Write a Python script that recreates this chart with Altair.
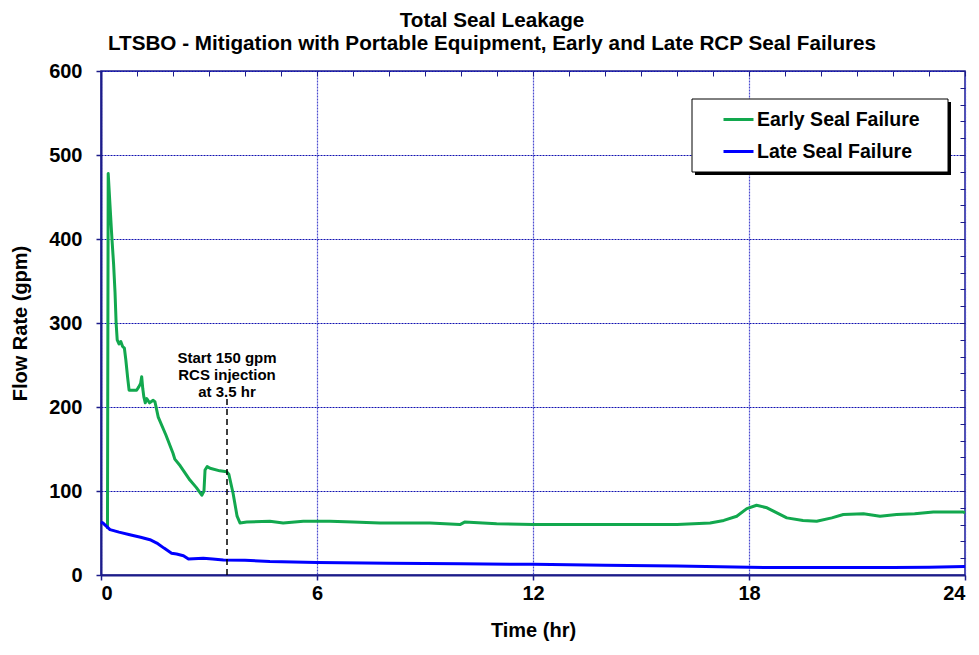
import altair as alt
import pandas as pd

FONT = "Liberation Sans"
NAVY = "#1c1c8a"

series_names = ["Early Seal Failure", "Late Seal Failure"]
series_colors = ["#12a84e", "#0000ff"]

early_t = [0.18, 0.2, 0.25, 0.3, 0.35, 0.39, 0.42, 0.45, 0.5, 0.55, 0.6, 0.65, 0.69, 0.74,
           0.78, 0.9, 0.99, 1.05, 1.1, 1.13, 1.16, 1.19, 1.23, 1.27, 1.35, 1.45, 1.5, 1.59,
           1.8, 2.0, 2.05, 2.2, 2.47, 2.65, 2.8, 2.86, 2.89, 2.95, 3.03, 3.3, 3.49, 3.55,
           3.67, 3.78, 3.86, 4.05, 4.69, 5.06, 5.62, 6.36, 7.0, 7.75, 8.5, 9.14, 9.97, 10.1,
           10.99, 12.0, 12.84, 14.0, 15.25, 16.0, 16.92, 17.3, 17.66, 17.94, 18.21, 18.5,
           19.05, 19.5, 19.88, 20.3, 20.62, 21.18, 21.64, 22.1, 22.6, 23.12, 23.95, 24.0]
early_v = [55, 478, 440, 403, 370, 336, 300, 280, 275, 278, 272, 270, 256, 235,
           220, 220, 220, 224, 228, 236, 222, 212, 205, 210, 205, 208, 206, 188,
           167, 145, 138, 130, 113, 104, 95, 100, 125, 129, 127, 124, 123, 120,
           97, 70, 62, 63, 64, 62, 64, 64, 63, 62, 62, 62, 60, 63,
           61, 60, 60, 60, 60, 60, 62, 65, 70, 79, 83, 80,
           68, 65, 64, 68, 72, 73, 70, 72, 73, 75, 75, 74]

late_t = [0.0, 0.05, 0.25, 0.5, 0.8, 1.1, 1.36, 1.55, 1.75, 1.96, 2.1, 2.29, 2.43, 2.84,
          3.1, 3.4, 4.0, 4.69, 6.0, 8.0, 10.0, 12.0, 14.0, 16.0, 18.0, 20.0, 22.0, 23.0, 24.0]
late_v = [63, 62, 54, 51, 48, 45, 42, 38, 32, 26, 25, 23, 19, 20,
          19, 18, 17.5, 16, 15, 14, 13.3, 12.7, 11.5, 10.7, 9.1, 8.8, 8.8, 9.2, 10]

x_major = [0, 6, 12, 18, 24]
x_minor = list(range(0, 25))
y_major = [0, 100, 200, 300, 400, 500, 600]
y_minor = list(range(0, 601, 20))

annot_x = [3.5]
annot_bottom = [0]
annot_top = [214]
annot_lines = ["Start 150 gpm", "RCS injection", "at 3.5 hr"]
annot_line_y = [258, 238, 218]

df = pd.concat([
    pd.DataFrame({"t": early_t, "v": early_v, "series": series_names[0]}),
    pd.DataFrame({"t": late_t, "v": late_v, "series": series_names[1]}),
], ignore_index=True)

x_scale = alt.Scale(domain=[0, 24], nice=False, zero=False)
y_scale = alt.Scale(domain=[0, 600], nice=False)

label_style = dict(labelFont=FONT, labelFontSize=20, labelFontWeight="bold", labelColor="black",
                   titleFont=FONT, titleFontSize=20, titleFontWeight="bold", titleColor="black")

lines = alt.Chart(df).mark_line(strokeWidth=3, strokeJoin="round").encode(
    x=alt.X("t:Q", scale=x_scale, axis=alt.Axis(
        values=x_major, title="Time (hr)", grid=True, gridColor="#4c4cd0", gridDash=[2, 1],
        gridWidth=1.2, gridOpacity=1, domainColor=NAVY, domainWidth=2, tickColor=NAVY, tickWidth=1.5,
        tickSize=5, labelPadding=3, titlePadding=17, format="d", **label_style)),
    y=alt.Y("v:Q", scale=y_scale, axis=alt.Axis(
        values=y_major, title="Flow Rate (gpm)", grid=True, gridColor="#1010b0", gridDash=[2, 1],
        gridWidth=1.2, gridOpacity=1, domainColor=NAVY, domainWidth=2, tickColor=NAVY, tickWidth=1.5,
        tickSize=5, labelPadding=14, titlePadding=18, format="d", **label_style)),
    color=alt.Color("series:N", scale=alt.Scale(domain=series_names, range=series_colors),
                    legend=alt.Legend(orient="none", legendX=621, legendY=32, title=None,
                                      symbolType="stroke", symbolSize=900, symbolStrokeWidth=3,
                                      labelFont=FONT, labelFontSize=19.5, labelFontWeight="bold",
                                      labelColor="black", labelOffset=2, rowPadding=6,
                                      labelLimit=400, padding=0)),
)

minor = alt.Chart(df).mark_line(opacity=0).encode(
    x=alt.X("t:Q", scale=x_scale, axis=alt.Axis(
        values=x_minor, labels=False, domain=False, grid=False, tickColor=NAVY, tickWidth=1,
        tickSize=5, offset=-5, title="")),
    y=alt.Y("v:Q", scale=y_scale, axis=alt.Axis(
        values=y_minor, labels=False, domain=False, grid=False, tickColor=NAVY, tickWidth=1,
        tickSize=5, offset=-5, title="")),
)

rule = alt.Chart(pd.DataFrame({"x": annot_x, "y0": annot_bottom, "y1": annot_top})).mark_rule(
    color="black", strokeDash=[6, 4], strokeWidth=1.5).encode(
    x=alt.X("x:Q", scale=x_scale, axis=None),
    y=alt.Y("y0:Q", scale=y_scale, axis=None),
    y2="y1:Q",
)

text = alt.Chart(pd.DataFrame({"x": annot_x * 3, "y": annot_line_y, "label": annot_lines})).mark_text(
    font=FONT, fontSize=15, fontWeight="bold", color="black", align="center", baseline="middle").encode(
    x=alt.X("x:Q", scale=x_scale, axis=None),
    y=alt.Y("y:Q", scale=y_scale, axis=None),
    text="label:N",
)

box_data = alt.Data(values=[{"k": 0}])
shadow = alt.Chart(box_data).mark_rect(color="black").encode(
    x=alt.value(594), x2=alt.value(850), y=alt.value(31), y2=alt.value(104))
box = alt.Chart(box_data).mark_rect(fill="white", stroke="black", strokeWidth=1).encode(
    x=alt.value(591), x2=alt.value(847), y=alt.value(28), y2=alt.value(101))

chart = alt.layer(shadow, box, lines, minor, rule, text).resolve_axis(
    x="independent", y="independent"
).properties(
    width=864, height=504,
    title=alt.TitleParams(
        text=["Total Seal Leakage",
              "LTSBO - Mitigation with Portable Equipment, Early and Late RCP Seal Failures"],
        font=FONT, fontSize=20.7, fontWeight="bold", color="black", anchor="middle",
        lineHeight=23, offset=6, dx=-41),
    padding={"left": 93, "top": 63, "right": 6, "bottom": 68},
    autosize=alt.AutoSizeParams(type="none"),
).configure_view(stroke=NAVY, strokeWidth=1.5)

chart.save("out.html", embed_options={"renderer": "svg", "actions": False})
